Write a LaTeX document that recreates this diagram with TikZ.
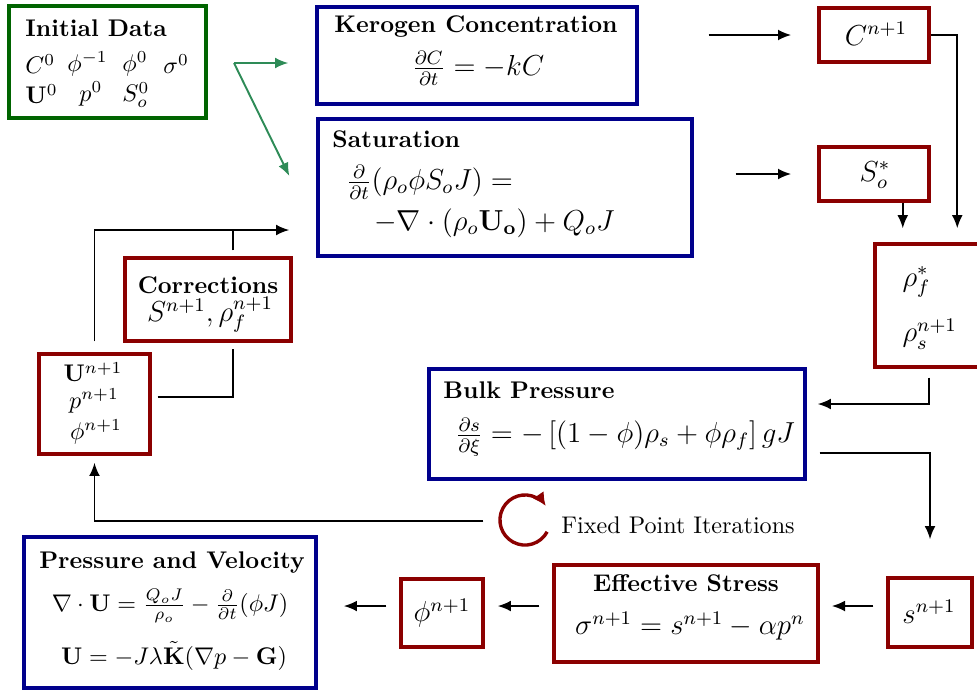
\documentclass[tikz,border=0pt]{standalone}
\usetikzlibrary{calc,arrows.meta}
\definecolor{bbox}{RGB}{0,0,140}
\definecolor{rbox}{RGB}{139,0,0}
\definecolor{gbox}{RGB}{0,100,0}
\definecolor{garrow}{RGB}{46,139,87}
\begin{document}
\begin{tikzpicture}[x=0.415pt,y=-0.415pt,
  boxb/.style={draw=bbox,line width=1.4pt,rectangle,inner sep=0pt},
  boxr/.style={draw=rbox,line width=1.4pt,rectangle,inner sep=0pt},
  boxg/.style={draw=gbox,line width=1.4pt,rectangle,inner sep=0pt},
  txt/.style={inner sep=0pt},
  ttl/.style={inner sep=0pt,font=\bfseries},
  eqn/.style={inner sep=0pt,font=\large},
  arr/.style={line width=0.8pt,-{Latex[length=5.5pt,width=4.5pt]}},
  plainline/.style={line width=0.8pt},
  garr/.style={draw=garrow,line width=0.8pt,-{Latex[length=5.5pt,width=4.5pt]}}]
\useasboundingbox (0,0) rectangle (977,691);
\clip (0,0) rectangle (977,691);

% boxes
\node[boxg,minimum width=81.8pt,minimum height=46.5pt] (init) at (107.5,62) {};
\node[boxb,minimum width=132.8pt,minimum height=40.3pt] (ker) at (477,55.5) {};
\node[boxb,minimum width=155.2pt,minimum height=56.9pt] (sat) at (505,187.5) {};
\node[boxr,minimum width=45.7pt,minimum height=22.4pt] (cn) at (874,35) {};
\node[boxr,minimum width=45.7pt,minimum height=22.4pt] (so) at (874,174) {};
\node[boxr,minimum width=43.2pt,minimum height=51pt] (rho) at (927,305.5) {};
\node[boxb,minimum width=156pt,minimum height=45.7pt] (bulk) at (617,424) {};
\node[boxr,minimum width=34.9pt,minimum height=28.6pt] (sn) at (930,612.5) {};
\node[boxr,minimum width=109.6pt,minimum height=40.3pt] (eff) at (686,613.5) {};
\node[boxr,minimum width=34pt,minimum height=28.2pt] (phin) at (442,613) {};
\node[boxb,minimum width=121.2pt,minimum height=62.7pt] (pv) at (170,612.5) {};
\node[boxr,minimum width=46.1pt,minimum height=41.5pt] (upp) at (94.5,404) {};
\node[boxr,minimum width=68.9pt,minimum height=34.4pt] (corr) at (208,299.5) {};
\node[circle,minimum size=20.8pt,inner sep=0pt] (fp) at (525,520) {};

% texts
\node[ttl,anchor=west] (initT) at (25,28) {Initial Data};
\node[txt,anchor=west] (i1) at (25,64) {$C^0$};
\node[txt,anchor=west] (i2) at (67,64) {$\phi^{-1}$};
\node[txt,anchor=west] (i3) at (122,64) {$\phi^0$};
\node[txt,anchor=west] (i4) at (163,64) {$\sigma^0$};
\node[txt,anchor=west] (i5) at (25,94) {$\mathbf{U}^0$};
\node[txt,anchor=west] (i6) at (79,94) {$p^0$};
\node[txt,anchor=west] (i7) at (122,95) {$S^0_o$};

\node[ttl] (kerT) at (476,27) {Kerogen Concentration};
\node[eqn] (kerE) at (478,68) {$\frac{\partial C}{\partial t}=-kC$};

\node[ttl,anchor=west] (satT) at (332,139) {Saturation};
\node[eqn,anchor=west] (satE1) at (346,182) {$\frac{\partial}{\partial t}(\rho_o\phi S_oJ)=$};
\node[eqn,anchor=west] (satE2) at (374,223) {$-\nabla\cdot(\rho_o\mathbf{U_o})+Q_oJ$};

\node[eqn] (cnT) at (876,34) {$C^{n+1}$};
\node[eqn] (soT) at (875,175) {$S_o^*$};
\node[eqn,anchor=west] (rho1) at (902,282) {$\rho_f^*$};
\node[eqn,anchor=west] (rho2) at (902,334) {$\rho_s^{n+1}$};

\node[ttl,anchor=west] (bulkT) at (443,390) {Bulk Pressure};
\node[eqn,anchor=west] (bulkE) at (455,437) {$\frac{\partial s}{\partial\xi}=-\left[(1-\phi)\rho_s+\phi\rho_f\right]gJ$};

\node[txt,anchor=west] (fpT) at (561,525) {Fixed Point Iterations};

\node[eqn] (snT) at (929,612) {$s^{n+1}$};
\node[ttl] (effT) at (686,583) {Effective Stress};
\node[eqn] (effE) at (690,626) {$\sigma^{n+1}=s^{n+1}-\alpha p^n$};
\node[eqn] (phinT) at (442,613) {$\phi^{n+1}$};

\node[ttl] (pvT) at (172,563) {Pressure and Velocity};
\node[txt] (pvE1) at (170,606) {$\nabla\cdot\mathbf{U}=\frac{Q_oJ}{\rho_o}-\frac{\partial}{\partial t}(\phi J)$};
\node[txt] (pvE2) at (174,656) {$\mathbf{U}=-J\lambda\tilde{\mathbf{K}}(\nabla p-\mathbf{G})$};

\node[txt] (u1) at (93,372) {$\mathbf{U}^{n+1}$};
\node[txt] (u2) at (94,401) {$p^{n+1}$};
\node[txt] (u3) at (96,432) {$\phi^{n+1}$};

\node[ttl] (corrT) at (208,285) {Corrections};
\node[eqn] (corrE) at (210,315) {$S^{n+1},\rho_f^{n+1}$};

% green connectors
\coordinate (g0) at (234,63);
\draw[garr] (g0) -- ($(ker.west |- g0)+(-27,0)$);
\draw[garr] (g0) -- ($(sat.west)+(-27,-11.5)$);

% black connectors
\draw[arr] ($(ker.east |- cn.west)+(70,0)$) -- ($(cn.west)+(-26,0)$);
\draw[arr] ($(sat.east |- so.west)+(42,0)$) -- ($(so.west)+(-26,0)$);
\draw[arr] (cn.east) -| ($(rho.north west)+(84,-14)$);
\draw[arr] ($(so.south east)+(-28,0)$) -- ($(so.south east |- rho.north)+(-28,-14)$);
\draw[arr] ($(rho.south west)+(56,9)$) |- ($(bulk.east)+(11,-20)$);
\draw[arr] ($(bulk.east)+(13,29)$) -| ($(sn.north)+(0,-37)$);
\draw[arr] ($(sn.west)+(-13,-6.5)$) -- ($(eff.east |- sn.west)+(12,-6.5)$);
\draw[arr] ($(eff.west |- phin.west)+(-13,-7)$) -- ($(phin.east)+(13,-7)$);
\draw[arr] ($(phin.west)+(-13,-7)$) -- ($(pv.east |- phin.west)+(26,-7)$);
\draw[arr] ($(fp.west)+(-16,1)$) -| ($(upp.south)+(0,7)$);
\draw[arr] ($(upp.north)+(0,-11)$) |- ($(sat.west)+(-27,42.5)$);
\draw[plainline] ($(corr.north)+(25,-6)$) -- ($(corr.north)+(25,-27)$);
\draw[plainline] ($(upp.east)+(6,-7)$) -| ($(corr.south)+(25,6)$);

% fixed point loop
\draw[draw=rbox,line width=1.4pt,-{Latex[length=5.5pt,width=5.5pt]}]
  ($(fp.center)+(-28:10.4pt)$) arc[start angle=-28,end angle=-326,radius=10.4pt];
\end{tikzpicture}
\end{document}
